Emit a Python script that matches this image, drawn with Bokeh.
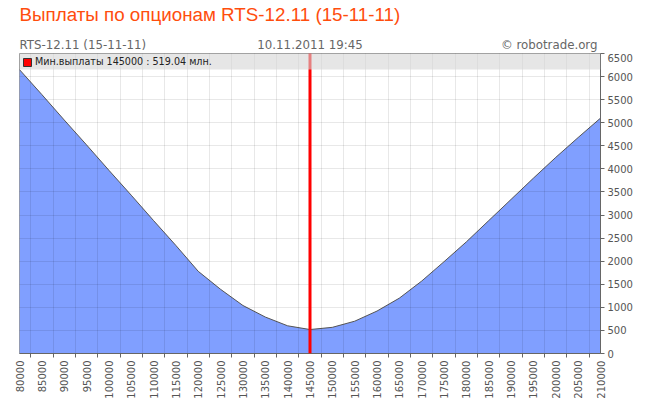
from bokeh.plotting import figure
from bokeh.layouts import column
from bokeh.models import (Range1d, FixedTicker, SingleIntervalTicker, Span, BoxAnnotation,
                          Label, Legend, LegendItem, BasicTickFormatter)
from bokeh.embed import file_html
from bokeh.resources import INLINE
import math

# ---- data ----
strikes = [80000, 85000, 90000, 95000, 100000, 105000, 110000, 115000, 120000,
           125000, 130000, 135000, 140000, 145000, 150000, 155000, 160000, 165000,
           170000, 175000, 180000, 185000, 190000, 195000, 200000, 205000, 210000]
payouts = [6150, 5610, 5060, 4520, 3970, 3430, 2880, 2340, 1780,
           1390, 1040, 790, 600, 519.04, 567, 700, 920, 1200,
           1570, 1990, 2420, 2880, 3340, 3800, 4250, 4680, 5100]
y_start, y_end, y_step = 0, 6500, 500
title_text = "Выплаты по опционам RTS-12.11 (15-11-11)"
sub_left = "RTS-12.11 (15-11-11)"
sub_center = "10.11.2011 19:45"
sub_right = "© robotrade.org"

i_min = min(range(len(payouts)), key=lambda i: payouts[i])
legend_text = f"Мин.выплаты {strikes[i_min]} : {payouts[i_min]:.2f} млн."
boundaries = [(a + b) / 2 for a, b in zip(strikes[:-1], strikes[1:])]

# ---- layout ----
W = 650
HT = 53                     # header figure height
H = 352                     # main figure height
ML, MR, MT, MB = 19, 50, 0, 52
frame_h = H - MT - MB
frame_w = W - ML - MR

AX_FONT = "DejaVu Sans"
AX_COL = "#555555"
SUB_SIZE = "11.8px"

# ---- header (titles); its frame is aligned with the main frame by the column ----
hdr = figure(width=W, height=HT, output_backend="svg", toolbar_location=None,
             x_axis_location=None, y_axis_location=None,
             min_border_left=ML, min_border_right=MR, min_border_top=0, min_border_bottom=0)
hdr.title = None
hdr.outline_line_color = None
hdr.xgrid.visible = False
hdr.ygrid.visible = False
hdr.add_layout(Label(x=0, y=29, x_units="screen", y_units="screen", text=title_text,
                     text_font="Liberation Sans", text_font_size="18.8px", text_color="#ff4d0d",
                     text_baseline="bottom"))
hdr.add_layout(Label(x=0, y=2, x_units="screen", y_units="screen", text=sub_left,
                     text_font=AX_FONT, text_font_size=SUB_SIZE, text_color="#666666",
                     text_baseline="bottom"))
hdr.add_layout(Label(x=frame_w / 2, y=2, x_units="screen", y_units="screen", text=sub_center,
                     text_font=AX_FONT, text_font_size=SUB_SIZE, text_color="#666666",
                     text_baseline="bottom", text_align="center"))
hdr.add_layout(Label(x=frame_w - 3, y=2, x_units="screen", y_units="screen", text=sub_right,
                     text_font=AX_FONT, text_font_size=SUB_SIZE, text_color="#666666",
                     text_baseline="bottom", text_align="right"))

# ---- main chart ----
p = figure(width=W, height=H, output_backend="svg", toolbar_location=None,
           x_range=Range1d(strikes[0], strikes[-1]), y_range=Range1d(y_start, y_end),
           y_axis_location="right", min_border_left=ML, min_border_right=MR,
           min_border_top=MT, min_border_bottom=MB)
p.title = None
p.outline_line_color = "#999999"

# x axis
p.xaxis.ticker = FixedTicker(ticks=strikes, minor_ticks=boundaries)
p.xaxis.formatter = BasicTickFormatter(use_scientific=False)
p.xaxis.major_label_orientation = math.pi / 2
p.xaxis.major_tick_line_color = None
p.xaxis.major_tick_out = 4
p.xaxis.major_tick_in = 0
p.xaxis.minor_tick_line_color = "#666666"
p.xaxis.minor_tick_out = 4
p.xaxis.minor_tick_in = 0
p.xaxis.major_label_standoff = 3
p.xaxis.axis_line_color = "#666666"
p.xaxis.major_label_text_font = AX_FONT
p.xaxis.major_label_text_font_size = "10px"
p.xaxis.major_label_text_color = AX_COL

# y axis
p.yaxis.ticker = SingleIntervalTicker(interval=y_step, num_minor_ticks=0)
p.yaxis.major_tick_line_color = "#666666"
p.yaxis.major_tick_out = 4
p.yaxis.major_tick_in = 0
p.yaxis.minor_tick_line_color = None
p.yaxis.major_label_standoff = 3
p.yaxis.axis_line_color = "#666666"
p.yaxis.major_label_text_font = AX_FONT
p.yaxis.major_label_text_font_size = "10px"
p.yaxis.major_label_text_color = AX_COL

# grids (drawn over the area, semi-transparent)
p.xgrid.ticker = FixedTicker(ticks=boundaries)
for g in (p.xgrid, p.ygrid):
    g.grid_line_color = "black"
    g.grid_line_alpha = 0.09
    g.level = "guide"

# area + outline
p.varea(x=strikes, y1=[y_start] * len(strikes), y2=payouts, fill_color="#809fff", fill_alpha=1.0)
p.line(x=strikes, y=payouts, line_color="#555555", line_width=1)

# red min line
p.add_layout(Span(location=strikes[i_min], dimension="height", line_color="#ff0000", line_width=3))

# header band inside plot
band_px = 16
band_bottom = y_end - band_px * (y_end - y_start) / frame_h
p.add_layout(BoxAnnotation(bottom=band_bottom, top=y_end, fill_color="#d5d5d5", fill_alpha=0.6,
                           line_color=None))

# legend marker: zero-size quad at the minimum point
xm, ym = strikes[i_min], payouts[i_min]
r_leg = p.quad(left=[xm], right=[xm], top=[ym], bottom=[ym], fill_color="#ff0000", line_color="#333333")
legend = Legend(items=[LegendItem(label=legend_text, renderers=[r_leg])], location="top_left",
                margin=3, padding=7, glyph_width=10, glyph_height=10, label_height=10,
                label_standoff=3, spacing=0, background_fill_alpha=0, border_line_color=None,
                label_text_font=AX_FONT, label_text_font_size="9.6px", label_text_color="#222222")
p.add_layout(legend)

layout = column(hdr, p, spacing=0)
open("out.html", "w").write(file_html(layout, INLINE))
